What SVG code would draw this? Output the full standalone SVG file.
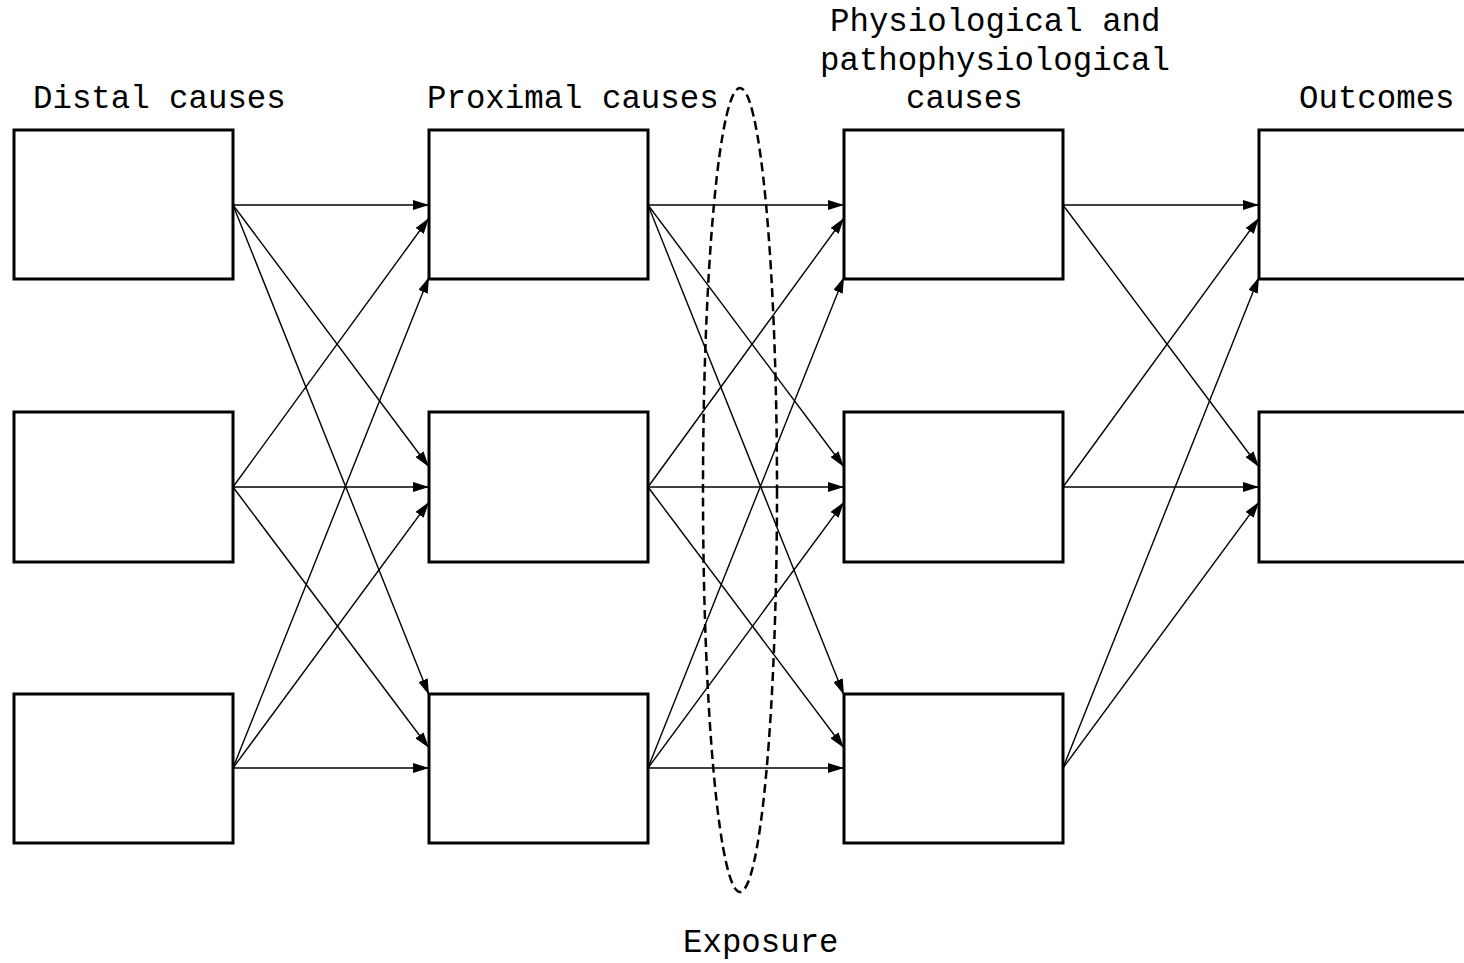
<svg xmlns="http://www.w3.org/2000/svg" width="1464" height="963" viewBox="0 0 1464 963">
<defs>
<marker id="ah" markerUnits="userSpaceOnUse" markerWidth="16" markerHeight="10" refX="16" refY="5" orient="auto">
<path d="M0,0 L16,5 L0,10 z" fill="#000"/>
</marker>
<style>
.box{fill:#fff;stroke:#000;stroke-width:3}
.lbl{font-family:"Liberation Mono","Courier New",monospace;font-size:32.4px;fill:#000}
.c line{stroke:#000;stroke-width:1.4;marker-end:url(#ah)}
</style>
</defs>
<rect width="1464" height="963" fill="#fff"/>
<g id="labels">
<text class="lbl" x="33" y="108">Distal causes</text>
<text class="lbl" x="427" y="108">Proximal causes</text>
<text class="lbl" x="830" y="31">Physiological and</text>
<text class="lbl" x="820" y="70">pathophysiological</text>
<text class="lbl" x="906" y="108">causes</text>
<text class="lbl" x="1299" y="108">Outcomes</text>
<text class="lbl" x="683" y="952">Exposure</text>
</g>
<g id="d1"><rect class="box" x="14" y="130" width="219" height="149"/></g>
<g id="d2"><rect class="box" x="14" y="412" width="219" height="150"/></g>
<g id="d3"><rect class="box" x="14" y="694" width="219" height="149"/></g>
<g id="p1"><rect class="box" x="429" y="130" width="219" height="149"/></g>
<g id="p2"><rect class="box" x="429" y="412" width="219" height="150"/></g>
<g id="p3"><rect class="box" x="429" y="694" width="219" height="149"/></g>
<g id="f1"><rect class="box" x="844" y="130" width="219" height="149"/></g>
<g id="f2"><rect class="box" x="844" y="412" width="219" height="150"/></g>
<g id="f3"><rect class="box" x="844" y="694" width="219" height="149"/></g>
<g id="o1"><rect class="box" x="1259" y="130" width="230" height="149"/></g>
<g id="o2"><rect class="box" x="1259" y="412" width="230" height="150"/></g>
<g id="connectors" class="c">
<line x1="233" y1="205" x2="429" y2="205"/>
<line x1="233" y1="205" x2="429" y2="467"/>
<line x1="233" y1="205" x2="429" y2="695"/>
<line x1="233" y1="487" x2="429" y2="218"/>
<line x1="233" y1="487" x2="429" y2="487"/>
<line x1="233" y1="487" x2="429" y2="748"/>
<line x1="233" y1="768" x2="429" y2="277"/>
<line x1="233" y1="768" x2="429" y2="502"/>
<line x1="233" y1="768" x2="429" y2="768"/>
<line x1="648" y1="205" x2="844" y2="205"/>
<line x1="648" y1="205" x2="844" y2="467"/>
<line x1="648" y1="205" x2="844" y2="695"/>
<line x1="648" y1="487" x2="844" y2="218"/>
<line x1="648" y1="487" x2="844" y2="487"/>
<line x1="648" y1="487" x2="844" y2="748"/>
<line x1="648" y1="768" x2="844" y2="277"/>
<line x1="648" y1="768" x2="844" y2="502"/>
<line x1="648" y1="768" x2="844" y2="768"/>
<line x1="1063" y1="205" x2="1259" y2="205"/>
<line x1="1063" y1="205" x2="1259" y2="467"/>
<line x1="1063" y1="487" x2="1259" y2="218"/>
<line x1="1063" y1="487" x2="1259" y2="487"/>
<line x1="1063" y1="768" x2="1259" y2="277"/>
<line x1="1063" y1="768" x2="1259" y2="502"/>
</g>
<g id="exposure">
<ellipse cx="740" cy="490" rx="37" ry="402" fill="none" stroke="#000" stroke-width="2.5" stroke-dasharray="9,5"/>
</g>
</svg>
